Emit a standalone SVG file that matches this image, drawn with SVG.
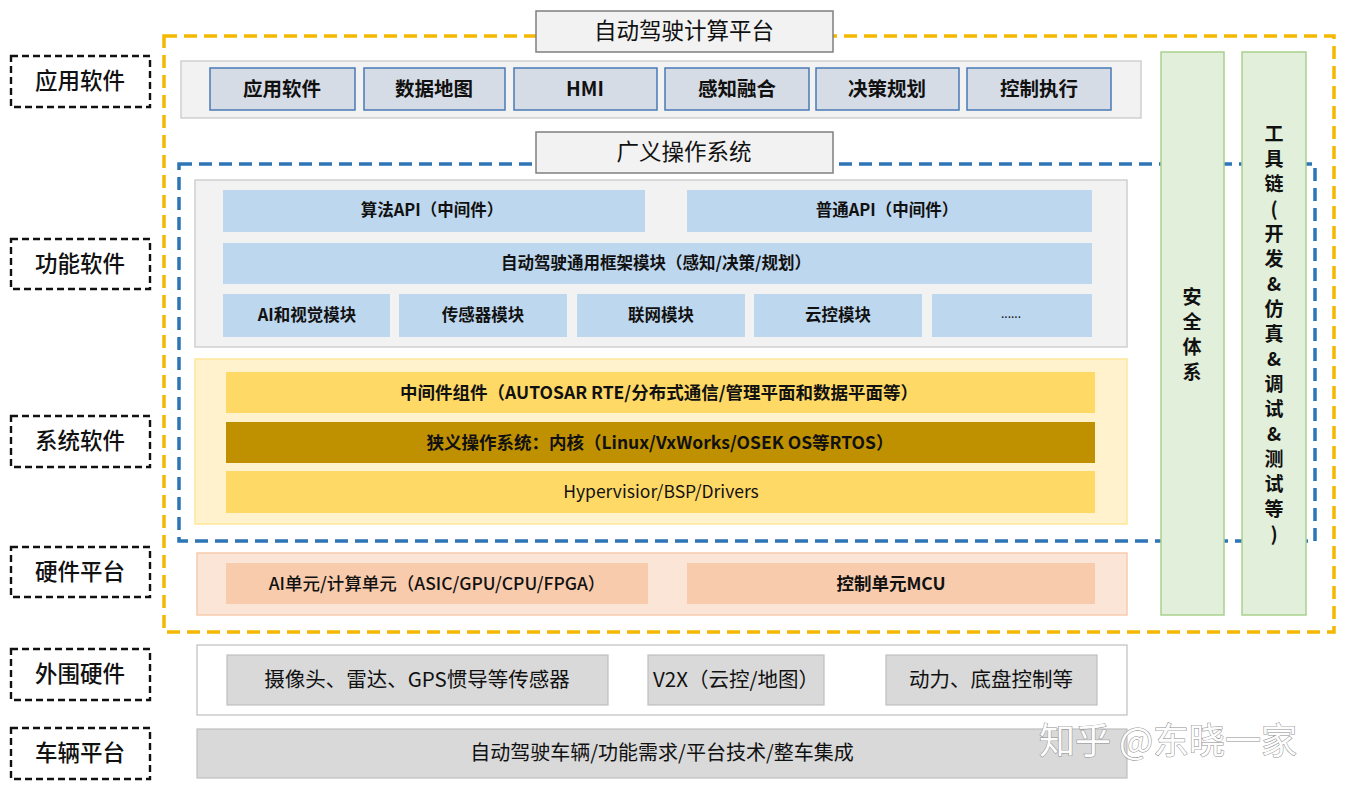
<svg xmlns="http://www.w3.org/2000/svg" width="1350" height="794" viewBox="0 0 1350 794">
<style>
text{font-family:"Noto Sans CJK SC","Noto Sans",sans-serif;fill:#111;text-anchor:middle;dominant-baseline:central;transform:translateY(-2px)}
.lbl{fill:#fff;stroke:#111;stroke-width:2.4;stroke-dasharray:7 4}
.lt{font-size:22.5px;font-weight:500}
.title{fill:#f2f2f2;stroke:#7f7f7f;stroke-width:1.5}
.tt{font-size:22.5px}
.app{fill:#d6dce5;stroke:#4a7ab5;stroke-width:1.5}
.at{font-size:19.5px;font-weight:700}
.gc{fill:#f2f2f2;stroke:#cfcfcf;stroke-width:1.5}
.blu{fill:#bdd7ee}
.mt{font-size:16.5px;font-weight:700}
.st{font-size:17.5px;font-weight:700}
.green{fill:#e2efda;stroke:#a9d18e;stroke-width:1.5}
.vt{font-size:19px;font-weight:700}
.pt{font-size:20.5px}
.gray{fill:#d9d9d9;stroke:#bfbfbf;stroke-width:1.2}
</style>

<!-- layer frames -->
<g id="frames">
<rect x="164" y="36" width="1170" height="596" fill="none" stroke="#f5b800" stroke-width="3.5" stroke-dasharray="13 7"/>
<rect x="179" y="164" width="1136" height="377" fill="none" stroke="#2e75b6" stroke-width="3.5" stroke-dasharray="13 7"/>
</g>

<!-- left labels -->
<g id="label-app"><rect class="lbl" x="11" y="56" width="139" height="51"/><text class="lt" x="80" y="81">应用软件</text></g>
<g id="label-func"><rect class="lbl" x="11" y="239" width="139" height="50"/><text class="lt" x="80" y="264">功能软件</text></g>
<g id="label-sys"><rect class="lbl" x="11" y="416" width="139" height="51"/><text class="lt" x="80" y="441">系统软件</text></g>
<g id="label-hw"><rect class="lbl" x="11" y="547" width="139" height="50"/><text class="lt" x="80" y="572">硬件平台</text></g>
<g id="label-periph"><rect class="lbl" x="11" y="649" width="139" height="51"/><text class="lt" x="80" y="674">外围硬件</text></g>
<g id="label-vehicle"><rect class="lbl" x="11" y="728" width="139" height="51"/><text class="lt" x="80" y="753">车辆平台</text></g>

<!-- application row -->
<g id="app-row">
<rect class="gc" x="181" y="61" width="960" height="57"/>
<g id="app1"><rect class="app" x="210" y="68" width="145" height="42"/><text class="at" x="282" y="89">应用软件</text></g>
<g id="app2"><rect class="app" x="364" y="68" width="141" height="42"/><text class="at" x="434" y="89">数据地图</text></g>
<g id="app3"><rect class="app" x="514" y="68" width="143" height="42"/><text class="at" x="585" y="89">HMI</text></g>
<g id="app4"><rect class="app" x="665" y="68" width="144" height="42"/><text class="at" x="737" y="89">感知融合</text></g>
<g id="app5"><rect class="app" x="816" y="68" width="143" height="42"/><text class="at" x="887" y="89">决策规划</text></g>
<g id="app6"><rect class="app" x="967" y="68" width="144" height="42"/><text class="at" x="1039" y="89">控制执行</text></g>
</g>

<!-- functional software -->
<g id="func">
<rect class="gc" x="195" y="180" width="932" height="167"/>
<g id="algo-api"><rect class="blu" x="223" y="190" width="422" height="42"/><text class="mt" x="432" y="211">算法API（中间件）</text></g>
<g id="common-api"><rect class="blu" x="687" y="190" width="405" height="42"/><text class="mt" x="887" y="211">普通API（中间件）</text></g>
<g id="framework"><rect class="blu" x="223" y="243" width="869" height="41"/><text class="mt" x="656" y="264">自动驾驶通用框架模块（感知/决策/规划）</text></g>
<g id="m-ai"><rect class="blu" x="223" y="294" width="167" height="43"/><text class="mt" x="307" y="316">AI和视觉模块</text></g>
<g id="m-sensor"><rect class="blu" x="399" y="294" width="168" height="43"/><text class="mt" x="483" y="316">传感器模块</text></g>
<g id="m-net"><rect class="blu" x="577" y="294" width="168" height="43"/><text class="mt" x="661" y="316">联网模块</text></g>
<g id="m-cloud"><rect class="blu" x="754" y="294" width="168" height="43"/><text class="mt" x="838" y="316">云控模块</text></g>
<g id="m-more"><rect class="blu" x="932" y="294" width="160" height="43"/><text class="mt" x="1011" y="314" style="font-weight:400;font-size:12px">......</text></g>
</g>

<!-- system software -->
<g id="sys">
<rect x="195" y="359" width="932" height="165" fill="#fff2cc" stroke="#ffe699" stroke-width="1.5"/>
<g id="middleware"><rect x="226" y="372" width="869" height="41" fill="#ffd966"/><text class="st" x="659" y="393">中间件组件（AUTOSAR RTE/分布式通信/管理平面和数据平面等）</text></g>
<g id="kernel"><rect x="226" y="422" width="869" height="41" fill="#bf9000"/><text class="st" x="660" y="443">狭义操作系统：内核（Linux/VxWorks/OSEK OS等RTOS）</text></g>
<g id="hypervisor"><rect x="226" y="471" width="869" height="42" fill="#ffd966"/><text class="st" x="661" y="492" style="font-weight:400">Hypervisior/BSP/Drivers</text></g>
</g>

<!-- hardware -->
<g id="hw">
<rect x="197" y="553" width="930" height="62" fill="#fbe5d6" stroke="#f8cbad" stroke-width="1.5"/>
<g id="ai-unit"><rect x="226" y="563" width="422" height="41" fill="#f8cbad"/><text class="st" x="437" y="584" style="font-weight:500">AI单元/计算单元（ASIC/GPU/CPU/FPGA）</text></g>
<g id="mcu"><rect x="687" y="563" width="408" height="41" fill="#f8cbad"/><text class="st" x="891" y="584">控制单元MCU</text></g>
</g>

<!-- peripheral -->
<g id="periph">
<rect x="197" y="645" width="930" height="70" fill="#fff" stroke="#bfbfbf" stroke-width="1.2"/>
<g id="sensors"><rect class="gray" x="227" y="655" width="381" height="50"/><text class="pt" x="417" y="680">摄像头、雷达、GPS惯导等传感器</text></g>
<g id="v2x"><rect class="gray" x="648" y="655" width="176" height="50"/><text class="pt" x="736" y="680">V2X（云控/地图）</text></g>
<g id="chassis"><rect class="gray" x="886" y="655" width="211" height="50"/><text class="pt" x="991" y="680">动力、底盘控制等</text></g>
</g>

<!-- vehicle -->
<g id="vehicle"><rect class="gray" x="197" y="729" width="930" height="49"/><text class="pt" x="662" y="753" style="font-size:20px">自动驾驶车辆/功能需求/平台技术/整车集成</text></g>

<!-- side columns -->
<g id="safety"><rect class="green" x="1161" y="52" width="63" height="563"/>
<text class="vt" x="1192"><tspan x="1192" y="297">安</tspan><tspan x="1192" y="322">全</tspan><tspan x="1192" y="347">体</tspan><tspan x="1192" y="372">系</tspan></text></g>
<g id="toolchain"><rect class="green" x="1242" y="52" width="64" height="563"/>
<text class="vt" x="1274"><tspan x="1274" y="134">工</tspan><tspan x="1274" y="159">具</tspan><tspan x="1274" y="184">链</tspan><tspan x="1274" y="209">(</tspan><tspan x="1274" y="234">开</tspan><tspan x="1274" y="259">发</tspan><tspan x="1274" y="284">&amp;</tspan><tspan x="1274" y="309">仿</tspan><tspan x="1274" y="334">真</tspan><tspan x="1274" y="359">&amp;</tspan><tspan x="1274" y="384">调</tspan><tspan x="1274" y="409">试</tspan><tspan x="1274" y="434">&amp;</tspan><tspan x="1274" y="459">测</tspan><tspan x="1274" y="484">试</tspan><tspan x="1274" y="509">等</tspan><tspan x="1274" y="534">)</tspan></text></g>

<!-- titles -->
<g id="title-platform"><rect class="title" x="536" y="11" width="297" height="41"/><text class="tt" x="684" y="31">自动驾驶计算平台</text></g>
<g id="title-os"><rect class="title" x="536" y="132" width="297" height="41"/><text class="tt" x="684" y="152">广义操作系统</text></g>

<!-- watermark -->
<text x="1168" y="740" style="font-size:36px;fill:#fdfdfd;stroke:#8c8c8c;stroke-width:1;paint-order:stroke">知乎 @东晓一家</text>
</svg>
